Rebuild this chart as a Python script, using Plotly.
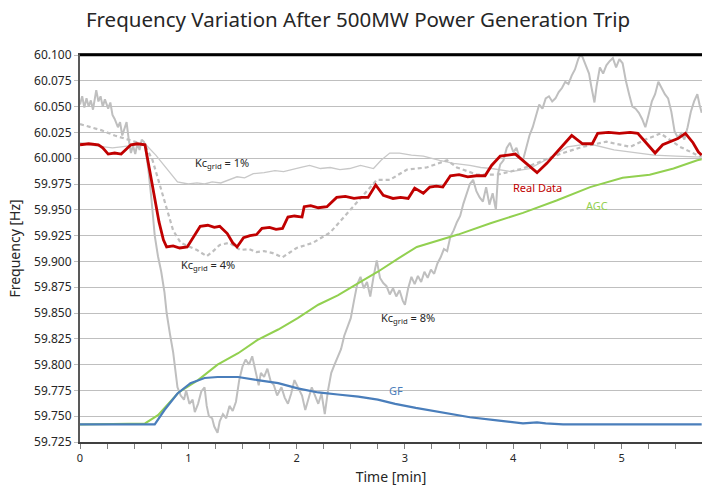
import plotly.graph_objects as go

# ---------------- data (time [min], frequency [Hz]) ----------------
real_t = [0, 0.08, 0.17, 0.21, 0.26, 0.32, 0.38, 0.43, 0.47, 0.53,
          0.60, 0.64, 0.69, 0.73, 0.77, 0.80, 0.86, 0.92, 0.99, 1.04,
          1.11, 1.18, 1.24, 1.29, 1.36, 1.41, 1.45, 1.51, 1.57, 1.63,
          1.68, 1.75, 1.81, 1.87, 1.92, 1.98, 2.05, 2.07, 2.13, 2.20,
          2.28, 2.37, 2.45, 2.53, 2.60, 2.66, 2.73, 2.80, 2.89, 2.96,
          3.03, 3.09, 3.17, 3.23, 3.29, 3.35, 3.42, 3.50, 3.58, 3.66,
          3.74, 3.80, 3.88, 3.95, 4.02, 4.12, 4.22, 4.31, 4.38, 4.45,
          4.54, 4.64, 4.73, 4.78, 4.88, 4.98, 5.08, 5.15, 5.23, 5.31,
          5.38, 5.45, 5.52, 5.59, 5.66, 5.71, 5.74]
real_f = [60.013, 60.014, 60.013, 60.010, 60.004, 60.005, 60.004, 60.009, 60.013, 60.014,
          60.013, 59.990, 59.959, 59.938, 59.921, 59.914, 59.915, 59.913, 59.914, 59.922,
          59.934, 59.935, 59.933, 59.934, 59.927, 59.918, 59.914, 59.923, 59.925, 59.926,
          59.932, 59.933, 59.931, 59.932, 59.943, 59.944, 59.943, 59.953, 59.954, 59.952,
          59.953, 59.962, 59.963, 59.961, 59.962, 59.962, 59.974, 59.964, 59.961, 59.962,
          59.961, 59.971, 59.966, 59.972, 59.973, 59.972, 59.983, 59.984, 59.982, 59.983,
          59.983, 59.993, 60.002, 60.003, 60.004, 59.995, 59.986, 59.995, 60.003, 60.011,
          60.022, 60.014, 60.014, 60.024, 60.025, 60.024, 60.025, 60.024, 60.014, 60.005,
          60.013, 60.016, 60.019, 60.024, 60.015, 60.006, 60.003]

agc_t = [0, 0.40, 0.60, 0.72, 0.91, 1.09, 1.27, 1.46, 1.64, 1.83, 2.01, 2.20,
         2.38, 2.57, 2.75, 2.94, 3.05, 3.11, 3.49, 3.79, 4.09, 4.40, 4.71, 5.01,
         5.26, 5.48, 5.70, 5.74]
agc_f = [59.742, 59.743, 59.743, 59.751, 59.773, 59.785, 59.800, 59.811, 59.824, 59.834,
         59.845, 59.858, 59.867, 59.879, 59.890, 59.903, 59.910, 59.914, 59.926, 59.937,
         59.947, 59.959, 59.972, 59.981, 59.984, 59.990, 59.998, 59.999]

gf_t = [0, 0.69, 0.78, 0.90, 1.02, 1.15, 1.27, 1.46, 1.64, 1.83, 2.01, 2.20, 2.38,
        2.57, 2.75, 2.91, 3.10, 3.32, 3.60, 3.85, 4.09, 4.22, 4.30, 4.46, 5.74]
gf_f = [59.742, 59.742, 59.756, 59.772, 59.782, 59.787, 59.788, 59.788, 59.785, 59.782,
        59.777, 59.773, 59.771, 59.769, 59.766, 59.762, 59.758, 59.754, 59.749, 59.746,
        59.743, 59.744, 59.743, 59.742, 59.742]

kc1_t = [0, 0.08, 0.15, 0.22, 0.30, 0.38, 0.45, 0.52, 0.60, 0.70, 0.80, 0.90, 1.00,
         1.08, 1.15, 1.22, 1.30, 1.38, 1.45, 1.52, 1.60, 1.70, 1.80, 1.88, 1.95, 2.04,
         2.12, 2.22, 2.31, 2.40, 2.49, 2.59, 2.71, 2.78, 2.86, 2.95, 3.06, 3.17, 3.32,
         3.45, 3.60, 3.70, 3.80, 3.98, 4.15, 4.33, 4.50, 4.70, 4.93, 5.10, 5.30, 5.50,
         5.74]
kc1_f = [60.015, 60.013, 60.012, 60.011, 60.010, 60.011, 60.012, 60.013, 60.014, 60.003,
         59.990, 59.977, 59.975, 59.976, 59.975, 59.977, 59.976, 59.979, 59.982, 59.981,
         59.985, 59.986, 59.988, 59.987, 59.989, 59.991, 59.993, 59.990, 59.991, 59.989,
         59.990, 59.993, 59.990, 59.998, 60.005, 60.005, 60.003, 60.002, 59.998, 59.995,
         59.993, 59.991, 59.990, 59.987, 59.990, 60.000, 60.011, 60.014, 60.008, 60.006,
         60.003, 60.002, 60.001]

kc4_t = [0, 0.10, 0.20, 0.32, 0.44, 0.52, 0.60, 0.67, 0.75, 0.81, 0.86, 0.93, 1.00,
         1.08, 1.17, 1.23, 1.29, 1.38, 1.48, 1.56, 1.63, 1.70, 1.78, 1.87, 2.00, 2.15,
         2.31, 2.47, 2.59, 2.74, 2.86, 3.02, 3.20, 3.32, 3.39, 3.48, 3.67, 3.85, 4.09,
         4.40, 4.64, 4.86, 5.08, 5.22, 5.36, 5.54, 5.72, 5.74]
kc4_f = [60.033, 60.030, 60.027, 60.022, 60.018, 60.016, 60.013, 59.998, 59.969, 59.947,
         59.930, 59.918, 59.915, 59.911, 59.905, 59.910, 59.916, 59.918, 59.911, 59.912,
         59.909, 59.910, 59.908, 59.904, 59.913, 59.918, 59.928, 59.947, 59.962, 59.979,
         59.979, 59.989, 59.991, 59.995, 59.998, 59.991, 59.984, 59.984, 59.990, 60.003,
         60.011, 60.016, 60.011, 60.018, 60.024, 60.011, 60.002, 60.002]

kc8_points = [
    (0.00, 60.052), (0.02, 60.060), (0.04, 60.049), (0.06, 60.058), (0.08, 60.050),
    (0.10, 60.056), (0.12, 60.047), (0.15, 60.066), (0.17, 60.055), (0.19, 60.060),
    (0.21, 60.050), (0.23, 60.057), (0.26, 60.048), (0.28, 60.054), (0.30, 60.042),
    (0.32, 60.038), (0.35, 60.030), (0.37, 60.035), (0.39, 60.022), (0.41, 60.028),
    (0.43, 60.035), (0.45, 60.018), (0.47, 60.005), (0.49, 60.012), (0.51, 60.004),
    (0.53, 60.014), (0.55, 60.008), (0.57, 60.018), (0.59, 60.016), (0.60, 60.013),
    (0.63, 59.990), (0.66, 59.960), (0.69, 59.925), (0.72, 59.905), (0.75, 59.890),
    (0.78, 59.870), (0.80, 59.850), (0.83, 59.830), (0.86, 59.812), (0.88, 59.795),
    (0.90, 59.778), (0.93, 59.770), (0.96, 59.766), (0.98, 59.775), (1.01, 59.762),
    (1.04, 59.766), (1.06, 59.754), (1.09, 59.762), (1.12, 59.774), (1.15, 59.778),
    (1.17, 59.760), (1.19, 59.750), (1.22, 59.748), (1.24, 59.740), (1.27, 59.734),
    (1.29, 59.745), (1.32, 59.752), (1.35, 59.748), (1.38, 59.760), (1.41, 59.755),
    (1.44, 59.764), (1.47, 59.785), (1.50, 59.798), (1.53, 59.805), (1.56, 59.800),
    (1.59, 59.808), (1.62, 59.795), (1.65, 59.780), (1.67, 59.792), (1.70, 59.788),
    (1.73, 59.796), (1.76, 59.784), (1.79, 59.780), (1.82, 59.770), (1.86, 59.778),
    (1.89, 59.768), (1.92, 59.762), (1.95, 59.772), (1.98, 59.785), (2.01, 59.778),
    (2.05, 59.770), (2.08, 59.756), (2.11, 59.768), (2.14, 59.778), (2.17, 59.770),
    (2.20, 59.762), (2.23, 59.772), (2.26, 59.752), (2.29, 59.775), (2.32, 59.792),
    (2.35, 59.800), (2.38, 59.808), (2.41, 59.815), (2.44, 59.828), (2.47, 59.836),
    (2.50, 59.845), (2.53, 59.862), (2.56, 59.878), (2.59, 59.885), (2.62, 59.874),
    (2.65, 59.880), (2.68, 59.866), (2.71, 59.885), (2.74, 59.901), (2.77, 59.884),
    (2.80, 59.879), (2.83, 59.876), (2.86, 59.868), (2.89, 59.874), (2.92, 59.866),
    (2.95, 59.872), (2.98, 59.862), (3.00, 59.858), (3.03, 59.874), (3.06, 59.885),
    (3.09, 59.878), (3.12, 59.886), (3.15, 59.880), (3.18, 59.890), (3.21, 59.884),
    (3.24, 59.892), (3.27, 59.888), (3.30, 59.898), (3.33, 59.904), (3.36, 59.912),
    (3.39, 59.910), (3.42, 59.924), (3.45, 59.930), (3.48, 59.938), (3.51, 59.944),
    (3.54, 59.956), (3.57, 59.966), (3.60, 59.975), (3.63, 59.979), (3.66, 59.968),
    (3.69, 59.962), (3.72, 59.958), (3.75, 59.972), (3.78, 59.955), (3.81, 59.966),
    (3.84, 59.950), (3.86, 59.985), (3.88, 59.994), (3.91, 59.998), (3.94, 60.010),
    (3.97, 60.015), (4.00, 60.006), (4.03, 60.010), (4.06, 60.000), (4.09, 59.998),
    (4.12, 60.010), (4.15, 60.022), (4.18, 60.030), (4.21, 60.042), (4.24, 60.052),
    (4.27, 60.048), (4.30, 60.058), (4.33, 60.060), (4.36, 60.055), (4.39, 60.058),
    (4.42, 60.064), (4.45, 60.068), (4.48, 60.074), (4.51, 60.072), (4.54, 60.080),
    (4.57, 60.086), (4.60, 60.096), (4.62, 60.100), (4.64, 60.098), (4.67, 60.090),
    (4.70, 60.082), (4.72, 60.070), (4.75, 60.054), (4.77, 60.070), (4.80, 60.088),
    (4.83, 60.082), (4.86, 60.090), (4.89, 60.094), (4.92, 60.097), (4.95, 60.088),
    (4.98, 60.096), (5.01, 60.092), (5.04, 60.075), (5.07, 60.062), (5.10, 60.050),
    (5.13, 60.048), (5.16, 60.044), (5.19, 60.038), (5.22, 60.030), (5.25, 60.042),
    (5.28, 60.055), (5.31, 60.062), (5.34, 60.074), (5.37, 60.068), (5.40, 60.062),
    (5.43, 60.058), (5.46, 60.045), (5.49, 60.026), (5.52, 60.020), (5.55, 60.024),
    (5.58, 60.018), (5.61, 60.030), (5.64, 60.045), (5.67, 60.055), (5.70, 60.062),
    (5.72, 60.052), (5.74, 60.044),
]
kc8_t = [p[0] for p in kc8_points]
kc8_f = [p[1] for p in kc8_points]

y_ticks = [59.725 + 0.025 * i for i in range(16)]
y_tick_labels = ["%.3f" % v for v in y_ticks]
x_ticks = [0, 1, 2, 3, 4, 5]

labels = [
    ("Kc<sub>grid</sub> = 1%", 1.31, 59.995, "#262626"),
    ("Kc<sub>grid</sub> = 4%", 1.18, 59.897, "#262626"),
    ("Kc<sub>grid</sub> = 8%", 3.03, 59.845, "#262626"),
    ("Real Data", 4.22, 59.972, "#c00000"),
    ("AGC", 4.77, 59.954, "#92d050"),
    ("GF", 2.92, 59.775, "#4a7ebb"),
]

GRAY = "#bfbfbf"
FONT = "Noto Sans"

fig = go.Figure()
fig.add_trace(go.Scatter(x=kc1_t, y=kc1_f, mode="lines", line=dict(color="#c8c8c8", width=1.3)))
fig.add_trace(go.Scatter(x=kc4_t, y=kc4_f, mode="lines", line=dict(color=GRAY, width=2.2, dash="4px,3px")))
fig.add_trace(go.Scatter(x=kc8_t, y=kc8_f, mode="lines", line=dict(color=GRAY, width=2)))
fig.add_trace(go.Scatter(x=agc_t, y=agc_f, mode="lines", line=dict(color="#92d050", width=2)))
fig.add_trace(go.Scatter(x=gf_t, y=gf_f, mode="lines", line=dict(color="#4a7ebb", width=2.2)))
fig.add_trace(go.Scatter(x=real_t, y=real_f, mode="lines", line=dict(color="#c00000", width=2.8)))

for text, x, y, c in labels:
    fig.add_annotation(x=x, y=y, text=text, showarrow=False,
                       font=dict(family=FONT, size=11, color=c))

fig.update_layout(
    width=702, height=487,
    margin=dict(l=80, r=0, t=55, b=45, autoexpand=False),
    paper_bgcolor="white", plot_bgcolor="white",
    showlegend=False,
    title=dict(text="Frequency Variation After 500MW Power Generation Trip",
               x=0.51, xanchor="center", yref="container", y=1, yanchor="top",
               pad=dict(t=13), automargin=False,
               font=dict(family=FONT, size=20.5, color="#262626")),
    xaxis=dict(range=[0, 5.743], tickvals=x_ticks, ticks="outside", ticklen=5,
               tickcolor="#7f7f7f", showgrid=False, zeroline=False, automargin=False,
               showline=True, linecolor="#404040", linewidth=2, mirror=True,
               minor=dict(dtick=0.25, tick0=0, ticks="outside", ticklen=5, tickcolor="#7f7f7f", showgrid=False),
               tickfont=dict(family=FONT, size=11, color="#262626"),
               title=dict(text="Time [min]", font=dict(family=FONT, size=14, color="#262626"), standoff=8)),
    yaxis=dict(range=[59.725, 60.100], tickvals=y_ticks, ticktext=y_tick_labels,
               ticks="outside", ticklen=4, tickcolor=GRAY, automargin=False,
               showgrid=True, gridcolor=GRAY, gridwidth=1, zeroline=False,
               showline=True, linecolor="#595959", linewidth=2,
               tickfont=dict(family=FONT, size=12, color="#262626"),
               title=dict(text="Frequency [Hz]", font=dict(family=FONT, size=14, color="#262626"), standoff=10)),
)
fig.add_shape(type="line", xref="paper", yref="paper", x0=0, x1=1, y0=1, y1=1,
              line=dict(color="black", width=2.5))

fig.write_html("out.html", config={"displayModeBar": False},
               post_script="document.body.style.margin='0';document.body.style.overflow='hidden';")
